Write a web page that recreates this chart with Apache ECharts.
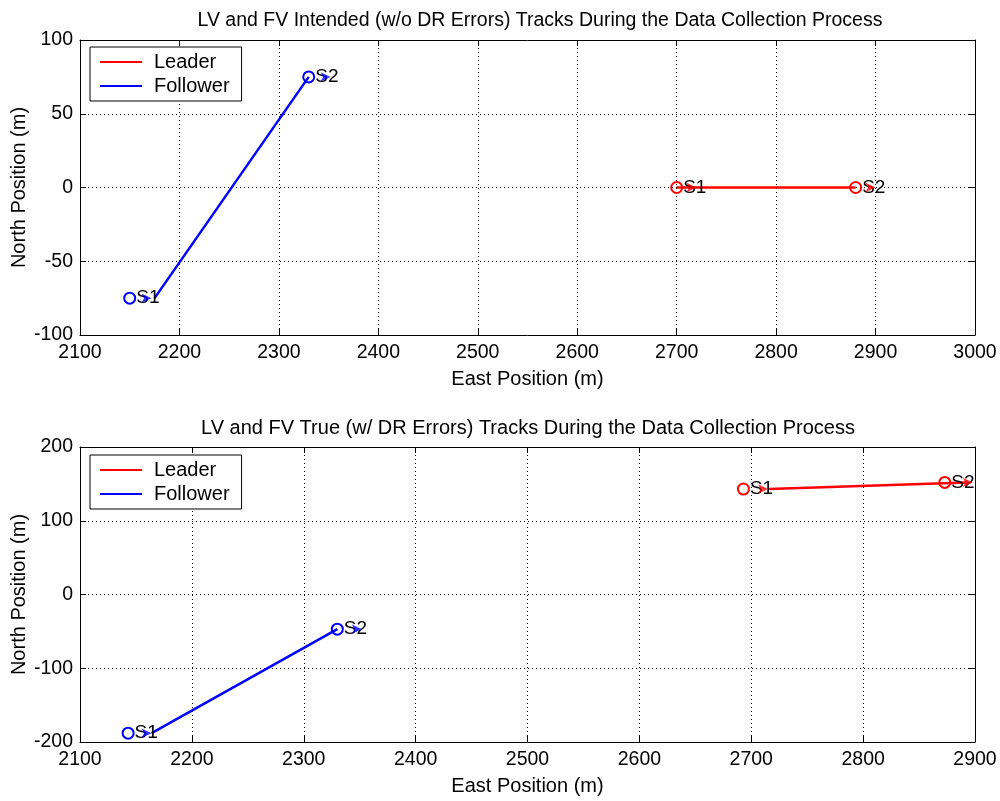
<!DOCTYPE html>
<html>
<head>
<meta charset="utf-8">
<script src="https://cdn.jsdelivr.net/npm/echarts@6/dist/echarts.min.js"></script>
<style>
  html, body { margin: 0; padding: 0; background: #fff; }
  #main { width: 1000px; height: 801px; }
</style>
</head>
<body>
<div id="main"></div>
<script>
// 上图：计划航迹 (w/o DR errors)
var topXTicks = [2100, 3000, 100];
var topYTicks = [-100, 100, 50];
var topLeaderTrack = [[2700, 0], [2880, 0]];
var topFollowerTrack = [[2175, -75], [2330, 75]];
var topLeaderPts = [[2700, 0], [2880, 0]];
var topFollowerPts = [[2150, -75], [2330, 75]];
var topLeaderEnds = [[2720, 0], [2900, 0]];
var topFollowerEnds = [[2172, -75], [2352, 75]];

// 下图：真实航迹 (w/ DR errors)
var botXTicks = [2100, 2900, 100];
var botYTicks = [-200, 200, 100];
var botLeaderTrack = [[2716, 143], [2893, 152]];
var botFollowerTrack = [[2164, -188], [2330, -47]];
var botLeaderPts = [[2693, 143], [2873, 152]];
var botFollowerPts = [[2143, -188], [2330, -47]];
var botLeaderEnds = [[2715, 143], [2898, 152]];
var botFollowerEnds = [[2164, -188], [2352, -47]];

var pointNames = ['S1', 'S2'];

var RED = '#ff0000', BLUE = '#0000ff';
var FONT = 'Liberation Sans, Arial, sans-serif';

var myChart = echarts.init(document.getElementById('main'));

function xAxisOf(idx, t, pos) {
    var main = pos === 'bottom';
    return {
        type: 'value', gridIndex: idx, min: t[0], max: t[1], interval: t[2], position: pos,
        name: main ? 'East Position (m)' : '', nameLocation: 'middle', nameGap: 34,
        nameTextStyle: { color: '#000', fontSize: 20, fontFamily: FONT },
        axisLine: { show: true, onZero: false, lineStyle: { color: '#000', width: 1 } },
        axisTick: { inside: true, length: 6, lineStyle: { color: '#000' } },
        axisLabel: { show: main, color: '#000', fontSize: 19.5, fontFamily: FONT, margin: 8,
                     formatter: function (v) { return String(v); } },
        splitLine: { show: main, lineStyle: { color: '#000', type: [1, 3], width: 1 } }
    };
}
function yAxisOf(idx, t, pos) {
    var main = pos === 'left';
    return {
        type: 'value', gridIndex: idx, min: t[0], max: t[1], interval: t[2], position: pos,
        name: main ? 'North Position (m)' : '', nameLocation: 'middle', nameGap: 51,
        nameMoveOverlap: false,
        nameTextStyle: { color: '#000', fontSize: 20, fontFamily: FONT },
        axisLine: { show: true, onZero: false, lineStyle: { color: '#000', width: 1 } },
        axisTick: { inside: true, length: 6, lineStyle: { color: '#000' } },
        axisLabel: { show: main, color: '#000', fontSize: 19.5, fontFamily: FONT, margin: 7 },
        splitLine: { show: main, lineStyle: { color: '#000', type: [1, 3], width: 1 } }
    };
}
function trackSeries(name, idx, data, color) {
    return {
        name: name, type: 'line', xAxisIndex: idx * 2, yAxisIndex: idx * 2,
        data: data, showSymbol: false, symbol: 'none', z: 3,
        lineStyle: { color: color, width: 2.5 }, itemStyle: { color: color }
    };
}
function pointSeries(idx, data, color) {
    return {
        type: 'scatter', xAxisIndex: idx * 2, yAxisIndex: idx * 2, z: 4,
        data: data.map(function (d, i) { return { value: d, name: pointNames[i] }; }),
        symbol: 'circle', symbolSize: 11,
        itemStyle: { color: 'rgba(0,0,0,0)', borderColor: color, borderWidth: 2, opacity: 1 },
        label: {
            show: true, position: 'right', distance: 0, formatter: '{b}',
            color: '#000', fontSize: 19, fontFamily: FONT
        },
        emphasis: { disabled: true }
    };
}
function endSeries(idx, data, color) {
    return {
        type: 'scatter', xAxisIndex: idx * 2, yAxisIndex: idx * 2, z: 5,
        data: data, symbol: 'arrow', symbolRotate: -90, symbolSize: [7, 10],
        itemStyle: { color: color }, emphasis: { disabled: true }
    };
}
function legendOf(top) {
    return {
        data: ['Leader', 'Follower'], orient: 'vertical', left: 90, top: top,
        backgroundColor: '#fff', borderColor: '#000', borderWidth: 1,
        padding: [5, 12, 5, 10], itemGap: 4, itemWidth: 42, itemHeight: 20,
        icon: 'path://M0,9L42,9L42,11L0,11Z',
        textStyle: { color: '#000', fontSize: 20, fontFamily: FONT, padding: [0, 0, 0, 7] }
    };
}

var option = {
    backgroundColor: '#fff',
    animation: false,
    title: [
        { text: 'LV and FV Intended (w/o DR Errors) Tracks During the Data Collection Process',
          left: 535, textAlign: 'center', top: 6,
          textStyle: { fontSize: 19.5, fontWeight: 'normal', color: '#000', fontFamily: FONT } },
        { text: 'LV and FV True (w/ DR Errors) Tracks During the Data Collection Process',
          left: 523, textAlign: 'center', top: 413,
          textStyle: { fontSize: 20, fontWeight: 'normal', color: '#000', fontFamily: FONT } }
    ],
    legend: [legendOf(47), legendOf(455)],
    grid: [
        { left: 80, right: 25, top: 40, height: 295, outerBoundsMode: 'none', containLabel: false },
        { left: 80, right: 25, top: 447, height: 295, outerBoundsMode: 'none', containLabel: false }
    ],
    xAxis: [xAxisOf(0, topXTicks, 'bottom'), xAxisOf(0, topXTicks, 'top'),
            xAxisOf(1, botXTicks, 'bottom'), xAxisOf(1, botXTicks, 'top')],
    yAxis: [yAxisOf(0, topYTicks, 'left'), yAxisOf(0, topYTicks, 'right'),
            yAxisOf(1, botYTicks, 'left'), yAxisOf(1, botYTicks, 'right')],
    series: [
        trackSeries('Leader', 0, topLeaderTrack, RED),
        trackSeries('Follower', 0, topFollowerTrack, BLUE),
        pointSeries(0, topLeaderPts, RED),
        pointSeries(0, topFollowerPts, BLUE),
        endSeries(0, topLeaderEnds, RED),
        endSeries(0, topFollowerEnds, BLUE),
        trackSeries('Leader', 1, botLeaderTrack, RED),
        trackSeries('Follower', 1, botFollowerTrack, BLUE),
        pointSeries(1, botLeaderPts, RED),
        pointSeries(1, botFollowerPts, BLUE),
        endSeries(1, botLeaderEnds, RED),
        endSeries(1, botFollowerEnds, BLUE)
    ]
};

myChart.setOption(option);
</script>
</body>
</html>
